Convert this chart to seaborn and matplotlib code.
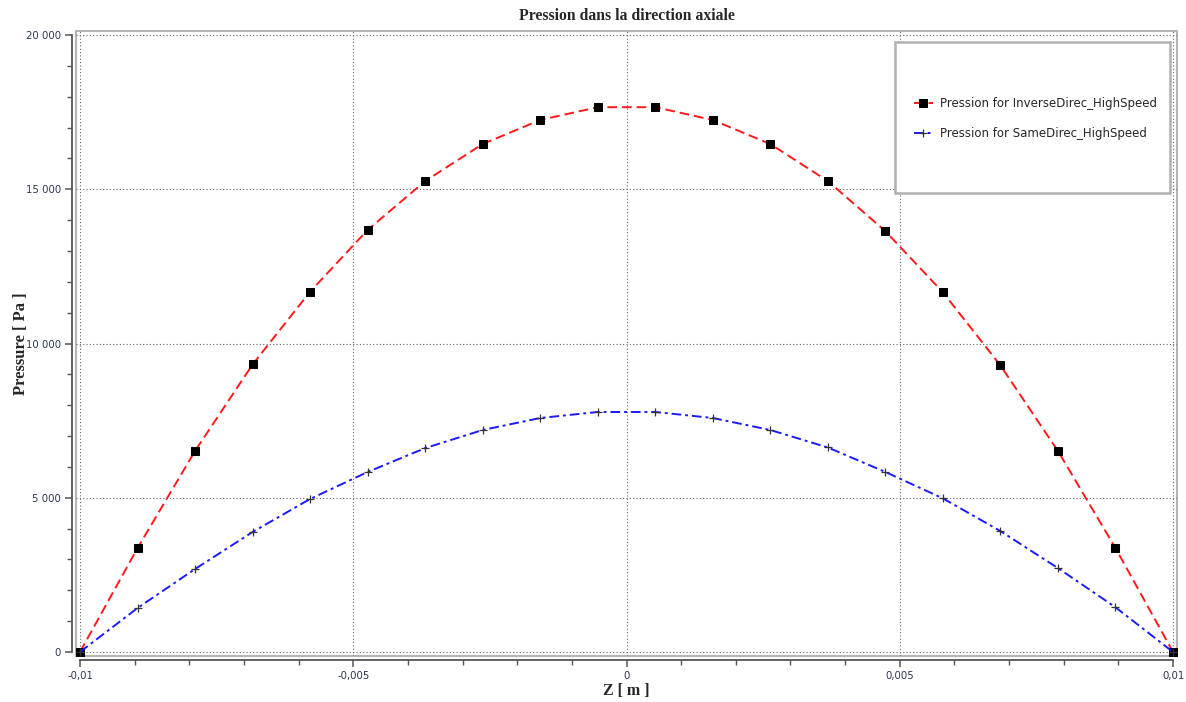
import numpy as np
import pandas as pd
import matplotlib
matplotlib.use("Agg")
import matplotlib.pyplot as plt
from matplotlib.ticker import MultipleLocator, FuncFormatter
from matplotlib.patches import Rectangle
import seaborn as sns

# ---- data ----
z = [-0.01, -0.008947, -0.007895, -0.006842, -0.005789, -0.004737, -0.003684,
     -0.002632, -0.001579, -0.000526, 0.000526, 0.001579, 0.002632, 0.003684,
     0.004737, 0.005789, 0.006842, 0.007895, 0.008947, 0.01]
inverse_p = [0, 3370, 6515, 9320, 11680, 13680, 15265, 16465, 17245, 17660,
             17660, 17245, 16465, 15265, 13640, 11660, 9290, 6515, 3370, 0]
same_p = [0, 1426, 2690, 3890, 4960, 5835, 6610, 7196, 7585, 7780,
          7780, 7585, 7196, 6630, 5835, 4980, 3920, 2720, 1450, 0]
label_inv = "Pression for InverseDirec_HighSpeed"
label_same = "Pression for SameDirec_HighSpeed"
title = "Pression dans la direction axiale"
xlabel = "Z [ m ]"
ylabel = "Pressure [ Pa ]"

sns.set_style("white")
plt.rcParams["font.family"] = ["DejaVu Sans"]

W, H = 1186, 702
fig = plt.figure(figsize=(W / 100, H / 100), dpi=100)
# axes box in pixels: left 76, right 1177, top 31, bottom 656
L, R, T, B = 76, 1177, 31, 656
ax = fig.add_axes([L / W, (H - B) / H, (R - L) / W, (B - T) / H])

df = pd.DataFrame({"z": z, "inv": inverse_p, "same": same_p})

sns.lineplot(data=df, x="z", y="inv", ax=ax, color="#ff1a1a", linestyle=(0, (5, 2.5)),
             linewidth=1.4, marker="s", markersize=6, markerfacecolor="black",
             markeredgecolor="black", label=label_inv, zorder=3)
sns.lineplot(data=df, x="z", y="same", ax=ax, color="#1a1aff", linestyle=(0, (5, 2, 1.5, 2)),
             linewidth=1.4, marker="+", markersize=6, markeredgewidth=0.9,
             markeredgecolor="#333333", label=label_same, zorder=3)

dx = 4 / 54.65 * 0.001
dy = 4 / 30.85 * 1000
ax.set_xlim(-0.01 - dx, 0.01 + dx)
ax.set_ylim(-dy, 20000 + dy)

ax.xaxis.set_major_locator(MultipleLocator(0.005))
ax.xaxis.set_minor_locator(MultipleLocator(0.001))
ax.yaxis.set_major_locator(MultipleLocator(5000))
ax.yaxis.set_minor_locator(MultipleLocator(1000))


def fx(v, pos):
    v = round(v, 6)
    if abs(v) < 1e-12:
        return "0"
    return f"{v:g}".replace(".", ",")


def fy(v, pos):
    return f"{int(round(v)):,}".replace(",", " ")


ax.xaxis.set_major_formatter(FuncFormatter(fx))
ax.yaxis.set_major_formatter(FuncFormatter(fy))

spine_col = "#555555"
for s in ["top", "right"]:
    ax.spines[s].set_visible(False)
ax.spines["left"].set_position(("outward", 2.9))
ax.spines["bottom"].set_position(("outward", 2.9))
ax.spines["left"].set_bounds(0, 20000)
ax.spines["bottom"].set_bounds(-0.01, 0.01)
for s in ["left", "bottom"]:
    ax.spines[s].set_color(spine_col)
    ax.spines[s].set_linewidth(1.3)

ax.tick_params(which="both", bottom=True, left=True, top=False, right=False)
ax.tick_params(which="major", direction="out", length=5, width=1.1, color=spine_col,
               labelsize=7.3, labelcolor="#2b3550", pad=3)
ax.tick_params(which="minor", direction="out", length=3.5, width=1.0, color=spine_col)

ax.grid(True, which="major", color="#666666", linestyle=(0, (1, 2)), linewidth=0.8)
ax.set_axisbelow(True)

# light frame around plot area
ax.add_patch(Rectangle((0, 0), 1, 1, transform=ax.transAxes, fill=False,
                       edgecolor="#b5b5b5", linewidth=1.5, clip_on=False, zorder=0.5))

ax.set_title(title, fontsize=11.3, fontweight="bold", family=["Liberation Serif"], pad=8)
ax.set_xlabel(xlabel, fontsize=11.5, fontweight="bold", family=["Liberation Serif"], labelpad=1)
ax.set_ylabel(ylabel, fontsize=12, fontweight="bold", family=["Liberation Serif"])
ax.yaxis.set_label_coords((29 - L) / (R - L), 0.5)

# legend box
lx0, lx1, ly0, ly1 = 895, 1170, 42, 193
fig.patches.append(Rectangle((lx0 / W, (H - ly1) / H), (lx1 - lx0) / W, (ly1 - ly0) / H,
                             transform=fig.transFigure, facecolor="white",
                             edgecolor="#b0b0b0", linewidth=1.8, zorder=5))
handles, labels = ax.get_legend_handles_labels()
ax.get_legend().remove()
leg = fig.legend(handles, labels, loc="center left", bbox_to_anchor=(903 / W, (H - 118.5) / H),
                 bbox_transform=fig.transFigure, frameon=False, fontsize=8.5,
                 handlelength=1.6, handletextpad=0.6, labelspacing=1.5)
leg.set_zorder(6)

fig.savefig("out.png", dpi=100)
